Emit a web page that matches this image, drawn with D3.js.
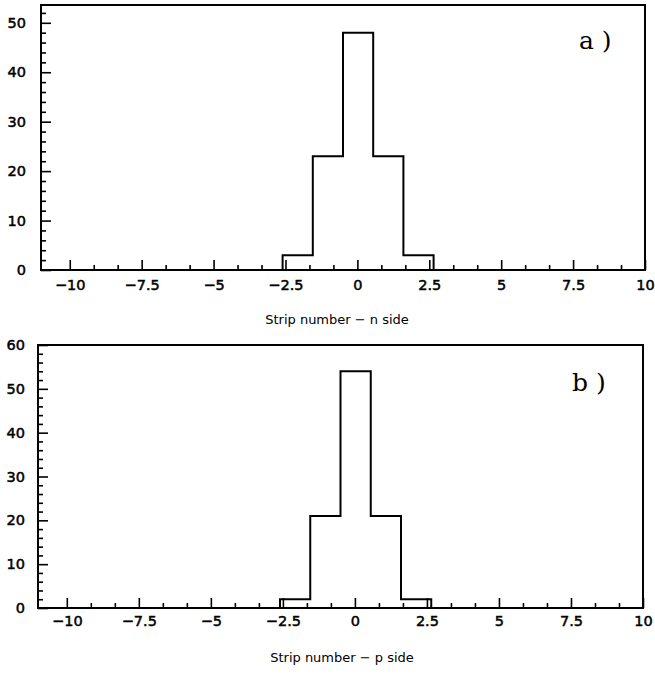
<!DOCTYPE html>
<html>
<head>
<meta charset="utf-8">
<script src="https://cdn.jsdelivr.net/npm/d3@7"></script>
<style>
  body { margin: 0; background: #fff; }
</style>
</head>
<body>
<div id="wrapper"></div>
<script>
// histogram bins: 20 bins of width 1.05 between -11 and 10, only non-empty ones kept
const binEdges = [-2.6, -1.55, -0.5, 0.55, 1.6, 2.65];
const countsN = [3, 23, 48, 23, 3];
const countsP = [2, 21, 54, 21, 2];

const xDomain = [-11, 10];
const xTicks = [-10, -7.5, -5, -2.5, 0, 2.5, 5, 7.5, 10];
const yTicksN = [0, 10, 20, 30, 40, 50];
const yTicksP = [0, 10, 20, 30, 40, 50, 60];
const yMaxN = 53.6;
const yMaxP = 60;

const panels = [
  { counts: countsN, yMax: yMaxN, yTicks: yTicksN, label: "a )", title: "Strip number \u2212 n side",
    left: 41, right: 645, top: 5, bottom: 270, xPad: 10, yPad: 15,
    labelX: 579, labelY: 49, titleX: 337, titleY: 324 },
  { counts: countsP, yMax: yMaxP, yTicks: yTicksP, label: "b )", title: "Strip number \u2212 p side",
    left: 38, right: 643, top: 345, bottom: 608, xPad: 8, yPad: 13,
    labelX: 572, labelY: 391, titleX: 342, titleY: 662 },
];

const svg = d3.select("#wrapper").append("svg")
  .attr("width", 655)
  .attr("height", 674);

const fmt = d => (d < 0 ? "\u2212" : "") + Math.abs(d);

panels.forEach(p => {
  const xScale = d3.scaleLinear().domain(xDomain).range([p.left, p.right]);
  const yScale = d3.scaleLinear().domain([0, p.yMax]).range([p.bottom, p.top]);

  // minor ticks
  const xMinor = d3.range(-10, 10.01, 2.5 / 3).filter(v => Math.abs(v / 2.5 - Math.round(v / 2.5)) > 0.01);
  const yMinor = d3.range(0, p.yMax, 2).filter(v => v % 10 !== 0);

  const xMinorAxis = svg.append("g")
    .attr("transform", `translate(0,${p.bottom})`)
    .call(d3.axisBottom(xScale).tickValues(xMinor).tickSize(-5).tickFormat(""));
  const yMinorAxis = svg.append("g")
    .attr("transform", `translate(${p.left},0)`)
    .call(d3.axisLeft(yScale).tickValues(yMinor).tickSize(-5).tickFormat(""));

  const xAxis = svg.append("g")
    .attr("transform", `translate(0,${p.bottom})`)
    .call(d3.axisBottom(xScale).tickValues(xTicks).tickSize(-10).tickPadding(p.xPad).tickFormat(fmt));
  const yAxis = svg.append("g")
    .attr("transform", `translate(${p.left},0)`)
    .call(d3.axisLeft(yScale).tickValues(p.yTicks).tickSize(-10).tickPadding(p.yPad).tickFormat(d3.format("d")));

  [xMinorAxis, yMinorAxis, xAxis, yAxis].forEach(a => {
    a.select(".domain").remove();
    a.selectAll("line").attr("stroke", "#000").attr("stroke-width", 1.6);
    a.selectAll("text")
      .attr("font-family", "DejaVu Sans")
      .attr("font-size", 14.5)
      .attr("fill", "#000")
      .attr("stroke", "#000")
      .attr("stroke-width", 0.5);
  });

  // frame
  svg.append("rect")
    .attr("x", p.left)
    .attr("y", p.top)
    .attr("width", p.right - p.left)
    .attr("height", p.bottom - p.top)
    .attr("fill", "none")
    .attr("stroke", "#000")
    .attr("stroke-width", 2);

  // histogram outline
  const pts = [[binEdges[0], 0]];
  p.counts.forEach((c, i) => {
    pts.push([binEdges[i], c]);
    pts.push([binEdges[i + 1], c]);
  });
  pts.push([binEdges[binEdges.length - 1], 0]);

  const lineGenerator = d3.line()
    .x(d => xScale(d[0]))
    .y(d => yScale(d[1]));

  svg.append("path")
    .attr("d", lineGenerator(pts))
    .attr("fill", "none")
    .attr("stroke", "#000")
    .attr("stroke-width", 2);

  svg.append("text")
    .attr("x", p.labelX)
    .attr("y", p.labelY)
    .attr("font-family", "DejaVu Serif")
    .attr("font-size", 25)
    .text(p.label);

  svg.append("text")
    .attr("x", p.titleX)
    .attr("y", p.titleY)
    .attr("text-anchor", "middle")
    .attr("font-family", "DejaVu Sans")
    .attr("font-size", 13)
    .text(p.title);
});
</script>
</body>
</html>
